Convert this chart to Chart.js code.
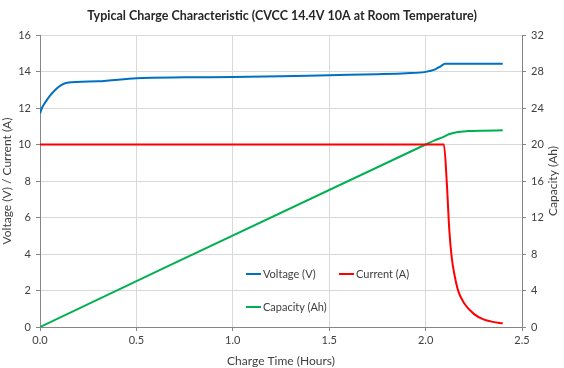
<!DOCTYPE html>
<html>
<head>
<meta charset="utf-8">
<script src="https://cdn.jsdelivr.net/npm/chart.js@4.4.1/dist/chart.umd.min.js"></script>
<style>
  html, body { margin: 0; padding: 0; background: #fff; }
  #wrap { position: relative; width: 564px; height: 368px; }
  #legend { position: absolute; left: 246px; top: 267px; width: 200px; font: 11px Lato, sans-serif; color: #404040; }
  #legend .item { position: absolute; display: flex; align-items: center; white-space: nowrap; line-height: 14px; }
  #legend .swatch { width: 15px; height: 2px; margin-right: 2px; }
</style>
</head>
<body>
<div id="wrap">
  <canvas id="chargeChart" width="564" height="368"></canvas>
  <div id="legend"></div>
</div>
<script>
// values
const voltHours = [0, 0.01, 0.03, 0.05, 0.08, 0.11, 0.14, 0.3, 0.5, 0.75, 1.0, 1.25, 1.5, 1.75, 1.9, 2.0, 2.05, 2.08, 2.1, 2.4];
const voltage = [11.7, 12.0, 12.35, 12.65, 13.0, 13.25, 13.38, 13.46, 13.63, 13.68, 13.7, 13.74, 13.8, 13.85, 13.9, 13.98, 14.12, 14.3, 14.42, 14.42];

const currHours = [0, 2.095, 2.11, 2.123, 2.135, 2.15, 2.17, 2.2, 2.25, 2.3, 2.35, 2.4];
const current = [10, 10, 7.9, 5.3, 3.85, 2.85, 1.95, 1.3, 0.72, 0.42, 0.28, 0.2];

const capHours = [0, 2.0, 2.05, 2.09, 2.12, 2.16, 2.22, 2.3, 2.4];
const capacity = [0, 20, 20.48, 20.8, 21.12, 21.35, 21.47, 21.52, 21.55];

const seriesNames = ["Voltage (V)", "Current (A)", "Capacity (Ah)"];
const seriesColors = ["#0070C0", "#FF0000", "#00B050"];

const textColor = "#404040";
const gridColor = "#d9d9d9";
const axisColor = "#868686";

Chart.defaults.font.family = "Lato, 'DejaVu Sans', sans-serif";
Chart.defaults.font.size = 11;
Chart.defaults.color = textColor;

function toPoints(xs, ys) {
    return xs.map((x, i) => ({ x: x, y: ys[i] }));
}

function makeDataset(i, xs, ys, axis) {
    return {
        label: seriesNames[i],
        data: toPoints(xs, ys),
        borderColor: seriesColors[i],
        backgroundColor: seriesColors[i],
        borderWidth: 2,
        pointRadius: 0,
        cubicInterpolationMode: "monotone",
        yAxisID: axis
    };
}

// right axis title reads bottom-to-top like the left one
const rightTitle = {
    id: "rightTitle",
    afterDraw(chart) {
        const s = chart.scales.y2;
        const ctx = chart.ctx;
        ctx.save();
        ctx.translate(s.right - 11, (s.top + s.bottom) / 2);
        ctx.rotate(-Math.PI / 2);
        ctx.font = "12px Lato, sans-serif";
        ctx.fillStyle = textColor;
        ctx.textAlign = "center";
        ctx.textBaseline = "middle";
        ctx.fillText("Capacity (Ah)", 0, 0);
        ctx.restore();
    }
};

const chart = new Chart(document.getElementById("chargeChart"), {
    type: "line",
    data: {
        datasets: [
            makeDataset(0, voltHours, voltage, "y"),
            makeDataset(1, currHours, current, "y"),
            makeDataset(2, capHours, capacity, "y2")
        ]
    },
    options: {
        responsive: false,
        animation: false,
        layout: { padding: 0 },
        plugins: {
            legend: { display: false },
            tooltip: { enabled: false },
            title: {
                display: true,
                text: "Typical Charge Characteristic (CVCC 14.4V 10A at Room Temperature)",
                font: { size: 12.5, weight: "bold" },
                color: "#262626",
                padding: { top: 8, bottom: 12 }
            }
        },
        scales: {
            x: {
                type: "linear",
                min: 0,
                max: 2.5,
                ticks: { stepSize: 0.5, padding: 3, callback: v => v.toFixed(1) },
                grid: { color: gridColor, tickColor: axisColor, tickLength: 4 },
                border: { color: axisColor },
                title: { display: true, text: "Charge Time (Hours)", font: { size: 12 }, padding: { top: 2, bottom: 0 } },
                afterFit: s => { s.height = 41; }
            },
            y: {
                position: "left",
                min: 0,
                max: 16,
                ticks: { stepSize: 2, padding: 5 },
                grid: { color: gridColor, tickColor: axisColor, tickLength: 4 },
                border: { color: axisColor },
                title: { display: true, text: "Voltage (V) / Current (A)", font: { size: 12 }, padding: 0 },
                afterFit: s => { s.width = 40; }
            },
            y2: {
                position: "right",
                min: 0,
                max: 32,
                ticks: { stepSize: 4, padding: 5 },
                grid: { drawOnChartArea: false, tickColor: axisColor, tickLength: 4 },
                border: { color: axisColor },
                afterFit: s => { s.width = 42; }
            }
        }
    },
    plugins: [rightTitle]
});

// legend placed inside the plot, two columns
const legendBox = document.getElementById("legend");
const legendSpots = [[0, 0], [93, 0], [0, 33]];
chart.data.datasets.forEach((ds, i) => {
    const item = document.createElement("div");
    item.className = "item";
    item.style.left = legendSpots[i][0] + "px";
    item.style.top = legendSpots[i][1] + "px";
    const sw = document.createElement("span");
    sw.className = "swatch";
    sw.style.background = ds.borderColor;
    const label = document.createElement("span");
    label.textContent = ds.label;
    item.appendChild(sw);
    item.appendChild(label);
    legendBox.appendChild(item);
});
</script>
</body>
</html>
